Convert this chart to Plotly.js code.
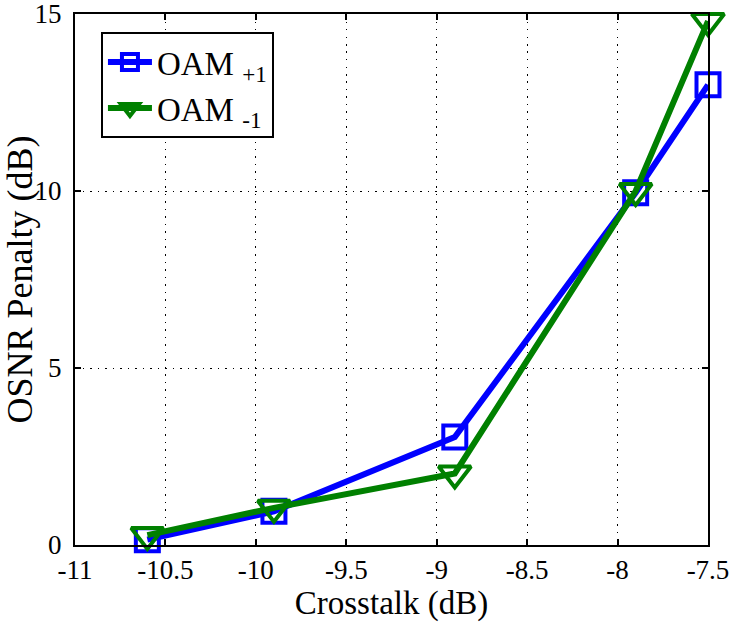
<!DOCTYPE html>
<html><head><meta charset="utf-8">
<script src="https://cdn.plot.ly/plotly-3.0.1.min.js"></script>
<style>html,body{margin:0;padding:0;background:#fff;}#chart{width:735px;height:623px;}</style>
</head><body><div id="chart"></div>
<script>
const crosstalk = [-10.6, -9.9, -8.9, -7.9, -7.5];
const oamPlus1 = [0.15, 0.95, 3.05, 9.95, 13.0];
const oamMinus1 = [0.28, 1.05, 2.02, 10.0, 14.8];
const xTickVals = [-11, -10.5, -10, -9.5, -9, -8.5, -8, -7.5];
const xTickText = ['-11', '-10.5', '-10', '-9.5', '-9', '-8.5', '-8', '-7.5'];
const yTickVals = [0, 5, 10, 15];
const yTickText = ['0', '5', '10', '15'];

const font = 'Liberation Serif, Times New Roman, serif';
const traces = [
  {x: crosstalk, y: oamPlus1, name: 'OAM <sub>+1</sub>', mode: 'lines+markers', cliponaxis: false,
   line: {color: '#0000ff', width: 6},
   marker: {symbol: 'square-open', size: 23, color: '#0000ff', line: {width: 4, color: '#0000ff'}}},
  {x: crosstalk, y: oamMinus1, name: 'OAM <sub>-1</sub>', mode: 'lines+markers', cliponaxis: false,
   line: {color: '#008000', width: 6},
   marker: {symbol: 'triangle-down-open', size: 28, color: '#008000', line: {width: 4, color: '#008000'}}}
];
const axisCommon = {
  showline: true, mirror: 'ticks', linecolor: '#000', linewidth: 2,
  ticks: 'inside', ticklen: 6, tickwidth: 1.5, tickcolor: '#000',
  showgrid: true, gridcolor: '#000', griddash: '1.5px,6px', gridwidth: 1.2,
  zeroline: false, ticklabeloverflow: 'allow',
  tickfont: {family: font, size: 27, color: '#000'}
};
const layout = {
  width: 735, height: 623,
  margin: {l: 75, r: 27, t: 14, b: 78},
  paper_bgcolor: '#fff', plot_bgcolor: '#fff',
  showlegend: true,
  legend: {x: 0.041, y: 0.966, xanchor: 'left', yanchor: 'top',
    bordercolor: '#000', borderwidth: 2, bgcolor: '#fff', itemwidth: 44,
    font: {family: font, size: 33, color: '#000'}, tracegroupgap: 0},
  xaxis: Object.assign({}, axisCommon, {range: [-11, -7.5], tickvals: xTickVals, ticktext: xTickText,
    title: {text: 'Crosstalk (dB)', font: {family: font, size: 33, color: '#000'}, standoff: 6}}),
  yaxis: Object.assign({}, axisCommon, {range: [0, 15], tickvals: yTickVals, ticktext: yTickText,
    ticklabelstandoff: 6,
    title: {text: 'OSNR Penalty (dB)', font: {family: font, size: 36, color: '#000'}, standoff: 2}})
};
Plotly.newPlot('chart', traces, layout, {displayModeBar: false});
</script></body></html>
